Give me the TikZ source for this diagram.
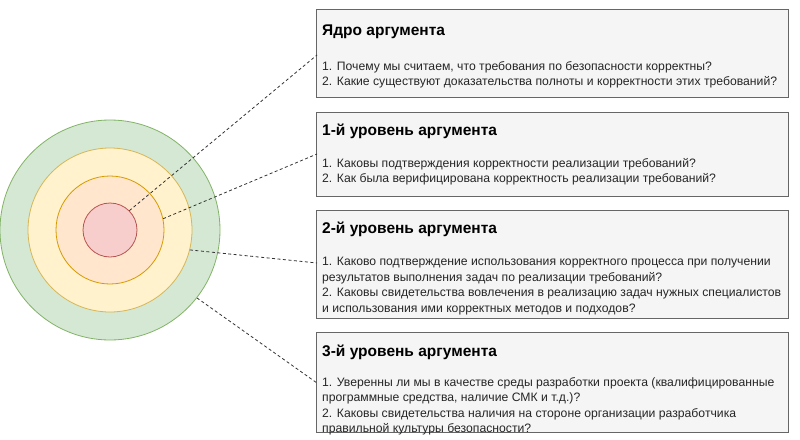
\documentclass[tikz,border=0pt]{standalone}
\usepackage{fontspec}
\setmainfont{Liberation Sans}
\begin{document}
\begin{tikzpicture}[x=1pt,y=-1pt,
 box/.style={draw=black!60,fill=black!4,line width=0.8pt,anchor=north west,inner sep=0pt},
 ttl/.style={anchor=north west,font=\fontsize{15.5}{17}\selectfont\bfseries,inner sep=0pt},
 body/.style={anchor=north west,align=left,font=\fontsize{12.2}{15.5}\selectfont,inner sep=0pt,text=black!85},
 ring/.style={circle,line width=0.8pt,inner sep=0pt},
 link/.style={dash pattern=on 3pt off 2.5pt,line width=0.8pt,black!80}]
\useasboundingbox (0,0) rectangle (800,439);
\node[ring,draw={rgb,255:red,130;green,179;blue,102},fill={rgb,255:red,213;green,232;blue,212},minimum size=220] (c4) at (110,230) {};
\node[ring,draw={rgb,255:red,214;green,182;blue,86},fill={rgb,255:red,255;green,242;blue,204},minimum size=164] (c3) at (110,230) {};
\node[ring,draw={rgb,255:red,215;green,155;blue,0},fill={rgb,255:red,255;green,230;blue,204},minimum size=108] (c2) at (110,230) {};
\node[ring,draw={rgb,255:red,184;green,84;blue,80},fill={rgb,255:red,248;green,206;blue,204},minimum size=54] (c1) at (110,230) {};
\node[box,minimum width=472,minimum height=88] (b1) at (316,9) {};
\node[box,minimum width=472,minimum height=84] (b2) at (316,112) {};
\node[box,minimum width=472,minimum height=108] (b3) at (316,210) {};
\node[box,minimum width=472,minimum height=100] (b4) at (316,332) {};
\node[ttl] (t1) at (322,25) {Ядро аргумента};
\node[body] (x1) at (322,61) {1. Почему мы считаем, что требования по безопасности корректны?\\2. Какие существуют доказательства полноты и корректности этих требований?};
\node[ttl] (t2) at (322,124) {1-й уровень аргумента};
\node[body] (x2) at (322,158) {1. Каковы подтверждения корректности реализации требований?\\2. Как была верифицирована корректность реализации требований?};
\node[ttl] (t3) at (322,222) {2-й уровень аргумента};
\node[body] (x3) at (322,257) {1. Каково подтверждение использования корректного процесса при получении\\результатов выполнения задач по реализации требований?\\2. Каковы свидетельства вовлечения в реализацию задач нужных специалистов\\и использования ими корректных методов и подходов?};
\node[ttl] (t4) at (322,345) {3-й уровень аргумента};
\node[body] (x4) at (322,377) {1. Уверенны ли мы в качестве среды разработки проекта (квалифицированные\\программные средства, наличие СМК и т.д.)?\\2. Каковы свидетельства наличия на стороне организации разработчика\\правильной культуры безопасности?};
\coordinate (e1) at (317,55);
\coordinate (e2) at (317,154);
\coordinate (e3) at (317,263);
\coordinate (e4) at (317,383);
\draw[link] (c1.45) -- (e1);
\draw[link] (c2.12) -- (e2);
\draw[link] (c3.-14) -- (e3);
\draw[link] (c4.-38) -- (e4);
\end{tikzpicture}
\end{document}
